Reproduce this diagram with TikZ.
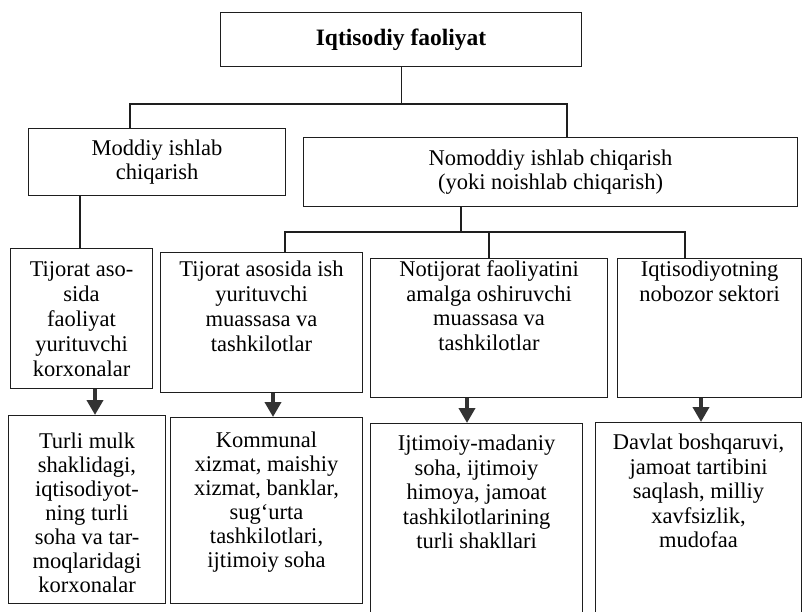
\documentclass[tikz,border=0pt]{standalone}
\usepackage{fontspec}
\setmainfont{Liberation Serif}
\usetikzlibrary{arrows.meta}
\definecolor{ink}{HTML}{1E1E1E}
\definecolor{arrowink}{HTML}{333333}
\newcommand\cbox[3]{\parbox[c][#2][c]{#1}{\centering\fontsize{22.5}{24}\selectfont #3}}
\newcommand\tbox[5]{\parbox[c][#2][t]{#1}{\centering\fontsize{22.5}{#4}\selectfont\rule{0pt}{#3}#5}}
\tikzset{
  box/.style={draw=ink, line width=1.1pt, inner sep=0pt, anchor=north west, fill=white},
  link/.style={draw=ink, line width=1.1pt},
  arr/.style={draw=arrowink, line width=4pt, -{Triangle[width=16pt,length=15pt]}}
}
\begin{document}
\begin{tikzpicture}[x=1pt,y=-1pt]
\useasboundingbox[fill=white] (0,0) rectangle (803,611);

% level 1
\node[box] (top) at (220,12) {\parbox[c][54pt][c]{361pt}{\centering\fontsize{23.5}{25}\selectfont\bfseries Iqtisodiy faoliyat}};

% level 2
\node[box] (mod) at (28,128) {\cbox{257pt}{67pt}{Moddiy ishlab\\chiqarish}};
\node[box] (nom) at (303,137) {\cbox{494pt}{69pt}{Nomoddiy ishlab chiqarish\\(yoki noishlab chiqarish)}};

% level 3
\node[box] (b1) at (10,248) {\tbox{142pt}{140pt}{28pt}{25}{Tijorat aso-\\sida\\faoliyat\\yurituvchi\\korxonalar}};
\node[box] (b2) at (160,252) {\tbox{202pt}{140pt}{24pt}{25}{Tijorat asosida ish\\yurituvchi\\muassasa va\\tashkilotlar}};
\node[box] (b3) at (370,258) {\tbox{237pt}{139pt}{18pt}{24.5}{Notijorat faoliyatini\\amalga oshiruvchi\\muassasa va\\tashkilotlar}};
\node[box] (b4) at (617,258) {\tbox{184pt}{139pt}{18pt}{24.5}{Iqtisodiyotning\\nobozor sektori}};

% level 4
\node[box] (c1) at (8,415) {\tbox{157pt}{188pt}{33pt}{24}{Turli mulk\\shaklidagi,\\iqtisodiyot-\\ning turli\\soha va tar-\\moqlaridagi\\korxonalar}};
\node[box] (c2) at (170,417) {\tbox{192pt}{186pt}{30pt}{24}{Kommunal\\xizmat, maishiy\\xizmat, banklar,\\sug‘urta\\tashkilotlari,\\ijtimoiy soha}};
\node[box] (c3) at (370,423) {\tbox{212pt}{194pt}{27pt}{24.5}{Ijtimoiy-madaniy\\soha, ijtimoiy\\himoya, jamoat\\tashkilotlarining\\turli shakllari}};
\node[box] (c4) at (595,422) {\tbox{206pt}{195pt}{27pt}{24.5}{Davlat boshqaruvi,\\jamoat tartibini\\saqlash, milliy\\xavfsizlik,\\mudofaa}};

% connectors level 1 -> 2
\coordinate (h1) at (130,104);
\coordinate (h2) at (567,104);
\draw[link] (top.south) -- (top.south |- h1);
\draw[link] (h1 |- mod.north) -- (h1) -- (h2) -- (h2 |- nom.north);

% Moddiy -> b1
\coordinate (m1) at (80,0);
\draw[link] (m1 |- mod.south) -- (m1 |- b1.north);

% Nomoddiy -> b2, b3, b4
\coordinate (n0) at (461,232);
\coordinate (n2) at (285,232);
\coordinate (n3) at (489,232);
\coordinate (n4) at (685,232);
\draw[link] (n0 |- nom.south) -- (n0);
\draw[link] (n2 |- b2.north) -- (n2) -- (n4) -- (n4 |- b4.north);
\draw[link] (n3) -- (n3 |- b3.north);

% arrows level 3 -> 4
\coordinate (a1) at (95,0);
\coordinate (a2) at (273,0);
\coordinate (a3) at (467,0);
\coordinate (a4) at (701,0);
\draw[arr] (a1 |- b1.south) -- (a1 |- c1.north);
\draw[arr] (a2 |- b2.south) -- (a2 |- c2.north);
\draw[arr] (a3 |- b3.south) -- (a3 |- c3.north);
\draw[arr] (a4 |- b4.south) -- (a4 |- c4.north);
\end{tikzpicture}
\end{document}
